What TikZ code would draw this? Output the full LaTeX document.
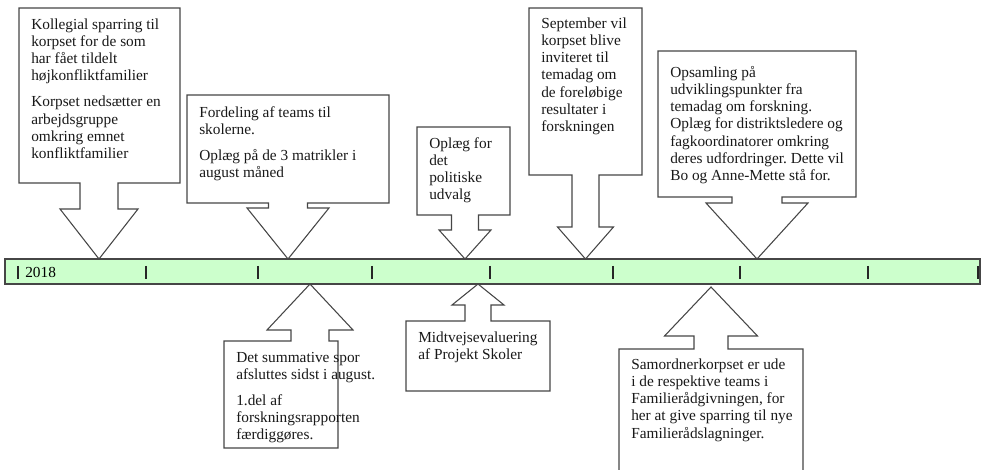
\documentclass[tikz,border=0pt]{standalone}
\usepackage{fontspec}
\setmainfont{Liberation Serif}
\frenchspacing
\definecolor{barfill}{RGB}{204,255,204}
\definecolor{lineg}{RGB}{70,70,70}
\newcommand\mycallout[9]{%
  \draw[callout] (#1,#2) -- (#3,#2) -- (#3,#4) -- ({#5+#9},#4) -- ({#5+#9},#7) -- ({#5+#8},#7)
    -- (#5,#6) -- ({#5-#8},#7) -- ({#5-#9},#7) -- ({#5-#9},#4) -- (#1,#4) -- cycle;}
\begin{document}
\begin{tikzpicture}[x=0.75pt,y=-0.75pt,
  callout/.style={draw=lineg,line width=0.8pt,fill=white,line join=miter},
  txt/.style={anchor=north west,inner sep=0pt,align=left,text=black!90,
    font=\fontsize{11.5}{12.9}\selectfont\frenchspacing},
  bar/.style={draw=lineg,line width=0.9pt,fill=barfill},
  tickmark/.style={draw=black!85,line width=0.9pt}]
\useasboundingbox (0,0) rectangle (982,470);
% timeline bar
\draw[bar] (5,259) rectangle (980,284);
\foreach \x in {18,146,258,372,490,613,740,868,978}
  \draw[tickmark] (\x,266) -- (\x,279);
\node[anchor=base west,inner sep=0pt,font=\fontsize{11.5}{12.9}\selectfont] (yr) at (25,278) {2018};
% top callouts
\mycallout{19}{8}{180}{183}{99}{259}{209}{39}{19}
\mycallout{187}{95}{389}{203}{288}{259}{208}{41}{19.5}
\mycallout{417}{127}{510}{215}{465}{259}{230}{26}{13.5}
\mycallout{529}{8}{642}{175}{585.5}{259}{227}{28}{13.5}
\mycallout{658}{51}{856}{197}{757}{259}{203}{51}{25}
% bottom callouts
\mycallout{224}{448}{338}{341}{310}{284}{330}{43}{19}
\mycallout{406}{391}{550}{321}{478}{284}{305}{26}{13}
\mycallout{619}{480}{803}{349}{711}{287}{336}{46.5}{17}
% texts
\node[txt] (t1) at (31,17) {\rule{0pt}{9pt}Kollegial sparring til\\korpset for de som\\har fået tildelt\\højkonfliktfamilier\\[6.6pt]Korpset nedsætter en\\arbejdsgruppe\\omkring emnet\\konfliktfamilier};
\node[txt] (t2) at (199,105) {\rule{0pt}{9pt}Fordeling af teams til\\skolerne.\\[6.6pt]Oplæg på de 3 matrikler i\\august måned};
\node[txt] (t3) at (429,136) {\rule{0pt}{9pt}Oplæg for\\det\\politiske\\udvalg};
\node[txt] (t4) at (541,16) {\rule{0pt}{9pt}September vil\\korpset blive\\inviteret til\\temadag om\\de foreløbige\\resultater i\\forskningen};
\node[txt] (t5) at (670,65) {\rule{0pt}{9pt}Opsamling på\\udviklingspunkter fra\\temadag om forskning.\\Oplæg for distriktsledere og\\fagkoordinatorer omkring\\deres udfordringer. Dette vil\\Bo og Anne-Mette stå for.};
\node[txt] (t6) at (236,350) {\rule{0pt}{9pt}Det summative spor\\afsluttes sidst i august.\\[6.6pt]1.del af\\forskningsrapporten\\færdiggøres.};
\node[txt] (t7) at (418,330) {\rule{0pt}{9pt}Midtvejsevaluering\\af Projekt Skoler};
\node[txt] (t8) at (631,357) {\rule{0pt}{9pt}Samordnerkorpset er ude\\i de respektive teams i\\Familierådgivningen, for\\her at give sparring til nye\\Familierådslagninger.};
\end{tikzpicture}
\end{document}
